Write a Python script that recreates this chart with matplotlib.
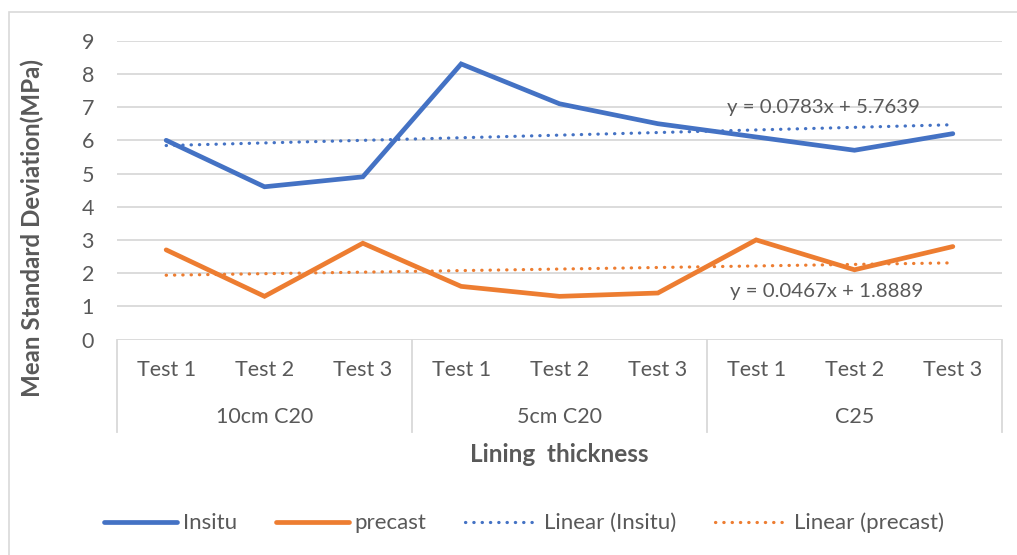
import numpy as np
import matplotlib
matplotlib.use("Agg")
import matplotlib.pyplot as plt
from matplotlib.patches import Rectangle
from matplotlib.lines import Line2D

plt.rcParams['font.family'] = ['Lato', 'DejaVu Sans']

tests = ["Test 1", "Test 2", "Test 3"] * 3
groups = ["10cm C20", "5cm C20", "C25"]
insitu = [6.0, 4.6, 4.9, 8.3, 7.1, 6.5, 6.1, 5.7, 6.2]
precast = [2.7, 1.3, 2.9, 1.6, 1.3, 1.4, 3.0, 2.1, 2.8]
yticks = list(range(0, 10))

BLUE = "#4472C4"
ORANGE = "#ED7D31"
GRAY = "#595959"
GRID = "#D9D9D9"

W, H = 1017, 555
fig = plt.figure(figsize=(W / 100, H / 100), dpi=100)

# outer chart frame
fig.patches.append(Rectangle((8.5 / W, -0.01), 1.2, 1 - 11.5 / H + 0.01,
                             transform=fig.transFigure, fill=False,
                             edgecolor=GRID, linewidth=1.2))

left, right, top, bottom = 117, 1002, 40.7, 339.5
ax = fig.add_axes([left / W, 1 - bottom / H, (right - left) / W, (bottom - top) / H])

x = np.arange(len(insitu))
LW = 3.4
ax.plot(x, insitu, color=BLUE, lw=LW, solid_capstyle='round', solid_joinstyle='miter', zorder=4)
ax.plot(x, precast, color=ORANGE, lw=LW, solid_capstyle='round', solid_joinstyle='miter', zorder=4)

# linear trendlines (Excel uses x = 1..n)
xe = x + 1
bi = np.polyfit(xe, insitu, 1)
bp = np.polyfit(xe, precast, 1)
DOT = (0, (0.1, 2.5))
ax.plot(x, np.polyval(bi, xe), color=BLUE, lw=2.3, linestyle=DOT,
        dash_capstyle='round', zorder=3)
ax.plot(x, np.polyval(bp, xe), color=ORANGE, lw=2.3, linestyle=DOT,
        dash_capstyle='round', zorder=3)

ax.text(6.68, 7.0, f"y = {bi[0]:.4f}x + {bi[1]:.4f}", ha='center', va='center',
        fontsize=14.7, color=GRAY, zorder=5)
ax.text(6.72, 1.45, f"y = {bp[0]:.4f}x + {bp[1]:.4f}", ha='center', va='center',
        fontsize=14.7, color=GRAY, zorder=5)

ax.set_xlim(-0.5, len(insitu) - 0.5)
ax.set_ylim(0, 9)
ax.set_yticks(yticks)
ax.set_yticklabels([str(t) for t in yticks], fontsize=15.5, color=GRAY)
ax.tick_params(axis='y', length=0, pad=16.5)
ax.set_xticks([])
ax.grid(axis='y', color=GRID, lw=1.3)
ax.set_axisbelow(True)
for s in ax.spines.values():
    s.set_visible(False)

# multi-level category axis
ph = bottom - top
trans = ax.get_xaxis_transform()
for xv in [-0.5, 2.5, 5.5, 8.5]:
    ax.add_line(Line2D([xv, xv], [0, -(432 - bottom) / ph], transform=trans,
                       color=GRID, lw=1.3, clip_on=False))
for i, t in enumerate(tests):
    ax.text(i, -(370 - bottom) / ph, t, transform=trans, ha='center', va='center',
            fontsize=15.5, color=GRAY, clip_on=False)
for g, name in enumerate(groups):
    ax.text(3 * g + 1, -(417 - bottom) / ph, name, transform=trans, ha='center', va='center',
            fontsize=15.5, color=GRAY, clip_on=False)
ax.text(4.0, -(454 - bottom) / ph, "Lining  thickness", transform=trans, ha='center',
        va='center', fontsize=17.5, fontweight='bold', color=GRAY, clip_on=False)

fig.text(32 / W, 1 - 228 / H, "Mean Standard Deviation(MPa)", rotation=90,
         ha='center', va='center', fontsize=17.4, fontweight='bold', color=GRAY)

handles = [
    Line2D([], [], color=BLUE, lw=LW, solid_capstyle='round'),
    Line2D([], [], color=ORANGE, lw=LW, solid_capstyle='round'),
    Line2D([], [], color=BLUE, lw=2.3, linestyle=DOT, dash_capstyle='round'),
    Line2D([], [], color=ORANGE, lw=2.3, linestyle=DOT, dash_capstyle='round'),
]
labels = ["Insitu", "precast", "Linear (Insitu)", "Linear (precast)"]
fig.legend(handles, labels, loc='center', bbox_to_anchor=(524 / W, 1 - 523 / H),
           ncol=4, frameon=False, fontsize=16, labelcolor=GRAY,
           handlelength=3.3, handletextpad=0.25, columnspacing=1.75)

fig.savefig("out.png", dpi=100)
